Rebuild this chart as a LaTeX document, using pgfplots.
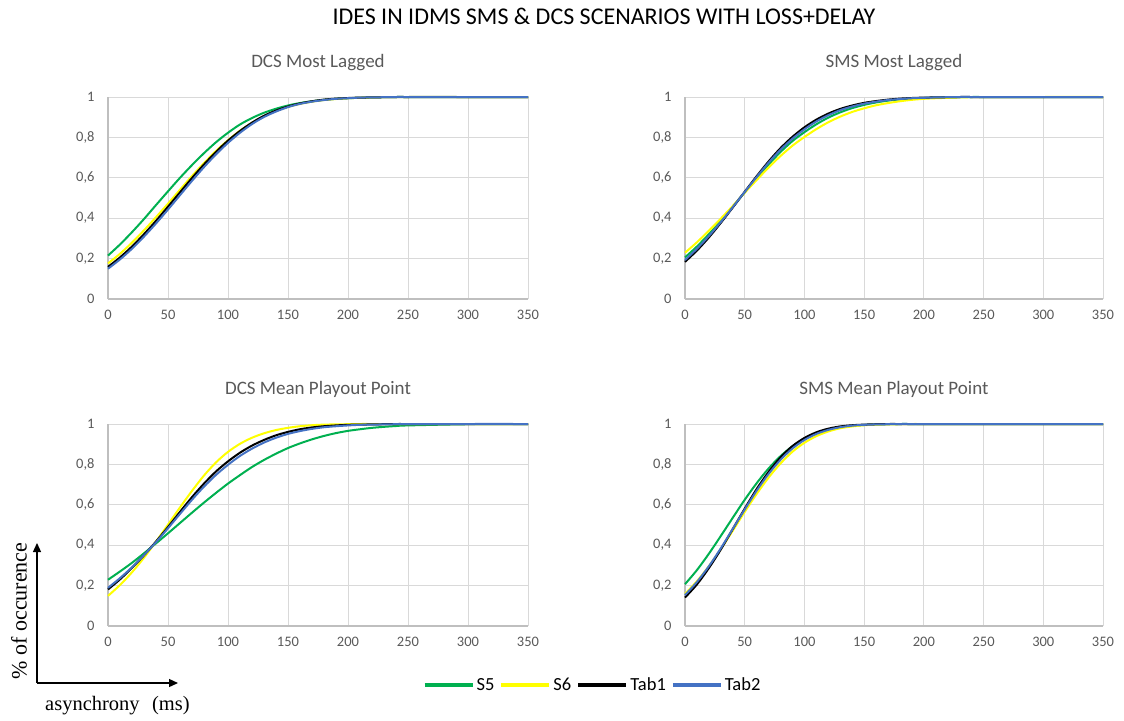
\documentclass[border=0pt]{standalone}
\usepackage{pgfplots}
\pgfplotsset{compat=1.18}
\usepackage{pgfplotstable}
\usepackage{fontspec}
\setmainfont{Carlito}
\newfontfamily\timesfont{Liberation Serif}
\usetikzlibrary{arrows.meta}
\definecolor{cG}{HTML}{00B050}
\definecolor{cY}{HTML}{FFFF00}
\definecolor{cB}{HTML}{4472C4}
\definecolor{tickgray}{HTML}{595959}
\definecolor{gridgray}{HTML}{D9D9D9}
\definecolor{axgray}{HTML}{BFBFBF}

\pgfplotstableread{
x G Y K B
0 0.215 0.176 0.159 0.150
10 0.270 0.224 0.206 0.196
20 0.331 0.279 0.260 0.249
30 0.396 0.340 0.321 0.309
40 0.465 0.405 0.387 0.374
50 0.533 0.472 0.457 0.443
60 0.600 0.541 0.528 0.514
70 0.663 0.609 0.599 0.585
80 0.722 0.673 0.666 0.653
90 0.776 0.733 0.728 0.716
100 0.823 0.786 0.784 0.773
110 0.864 0.833 0.832 0.823
120 0.896 0.872 0.873 0.866
130 0.922 0.905 0.907 0.901
140 0.942 0.931 0.933 0.928
150 0.958 0.951 0.953 0.950
160 0.970 0.966 0.968 0.966
170 0.979 0.977 0.979 0.977
180 0.986 0.985 0.987 0.985
190 0.991 0.990 0.992 0.991
200 0.994 0.994 0.995 0.994
210 0.996 0.996 0.997 0.997
220 0.998 0.998 0.998 0.998
230 0.999 0.999 0.999 0.999
240 1.000 0.999 1.000 0.999
250 1.000 1.000 1.000 1.000
300 1 1 1 1
350 1 1 1 1
}\tl

\pgfplotstableread{
x G Y K B
0 0.206 0.229 0.184 0.193
10 0.260 0.281 0.240 0.249
20 0.321 0.338 0.305 0.312
30 0.387 0.398 0.377 0.381
40 0.457 0.461 0.453 0.455
50 0.528 0.526 0.531 0.530
60 0.599 0.589 0.608 0.604
70 0.666 0.651 0.681 0.675
80 0.728 0.708 0.747 0.739
90 0.782 0.759 0.803 0.794
100 0.826 0.802 0.850 0.840
110 0.865 0.841 0.888 0.879
120 0.898 0.875 0.918 0.910
130 0.924 0.903 0.941 0.935
140 0.945 0.926 0.958 0.953
150 0.961 0.944 0.971 0.967
160 0.973 0.959 0.980 0.977
170 0.982 0.970 0.987 0.985
180 0.988 0.979 0.992 0.990
190 0.992 0.986 0.995 0.994
200 0.995 0.991 0.997 0.996
210 0.997 0.994 0.998 0.998
220 0.998 0.996 0.999 0.999
230 0.999 0.998 1.000 1.000
240 1.000 0.999 1.000 1.000
250 1.000 0.999 1.000 1.000
300 1 1 1 1
350 1 1 1 1
}\tr

\pgfplotstableread{
x G Y K B
0 0.229 0.149 0.181 0.189
10 0.270 0.203 0.231 0.237
20 0.313 0.266 0.288 0.291
30 0.360 0.338 0.350 0.351
40 0.409 0.418 0.418 0.415
50 0.459 0.502 0.490 0.484
60 0.510 0.587 0.565 0.555
70 0.561 0.669 0.638 0.625
80 0.611 0.745 0.705 0.690
90 0.659 0.810 0.765 0.748
100 0.705 0.862 0.815 0.798
110 0.747 0.902 0.858 0.842
120 0.787 0.932 0.893 0.878
130 0.822 0.954 0.921 0.908
140 0.853 0.970 0.944 0.932
150 0.881 0.981 0.961 0.951
160 0.904 0.989 0.974 0.965
170 0.924 0.994 0.983 0.976
180 0.941 0.997 0.989 0.984
190 0.955 0.998 0.993 0.989
200 0.966 0.999 0.996 0.993
210 0.974 1.000 0.997 0.996
220 0.981 1.000 0.998 0.997
230 0.986 1.000 0.999 0.998
240 0.990 1.000 1.000 0.999
250 0.993 1.000 1.000 0.999
300 0.999 1 1 1
350 1 1 1 1
}\bl

\pgfplotstableread{
x G Y K B
0 0.207 0.159 0.141 0.153
10 0.277 0.222 0.206 0.218
20 0.358 0.296 0.287 0.296
30 0.446 0.381 0.379 0.385
40 0.536 0.472 0.480 0.481
50 0.625 0.565 0.581 0.577
60 0.707 0.654 0.678 0.670
70 0.780 0.735 0.763 0.753
80 0.841 0.805 0.835 0.823
90 0.890 0.863 0.891 0.879
100 0.927 0.907 0.931 0.921
110 0.954 0.940 0.959 0.951
120 0.972 0.963 0.977 0.971
130 0.984 0.979 0.988 0.984
140 0.991 0.988 0.994 0.992
150 0.995 0.994 0.997 0.996
160 0.998 0.997 0.999 0.998
170 0.999 0.998 1.000 0.999
180 1.000 0.999 1.000 1.000
190 1 1 1 1
200 1 1 1 1
250 1 1 1 1
300 1 1 1 1
350 1 1 1 1
}\br

\pgfplotsset{panel/.style={
  scale only axis, width=420pt, height=202pt,
  anchor=south west,
  xmin=0, xmax=350, ymin=0, ymax=1,
  xtick={0,50,100,150,200,250,300,350},
  ytick={0,0.2,0.4,0.6,0.8,1},
  grid=major, major grid style={gridgray, line width=0.9pt},
  axis x line*=bottom, axis y line*=left,
  axis line style={axgray, line width=1.4pt, -},
  major tick length=0pt,
  tick label style={font=\fontsize{14.5}{16}\selectfont, text=tickgray},
  yticklabel style={xshift=-10pt},
  xticklabel style={yshift=-8pt},
  /pgf/number format/use comma,
  /pgf/number format/assume math mode=true,
  title style={font=\fontsize{19}{22}\selectfont, text=tickgray, anchor=base, at={(0.5,1)}, yshift=24pt},
  clip=false, no markers,
  every axis plot/.append style={line width=2pt, smooth},
}}

\begin{document}
\begin{tikzpicture}
\path[use as bounding box] (0,0) rectangle (1124pt,-720pt);
\node[anchor=base, font=\fontsize{24}{28}\selectfont] at (604pt,-24pt) {IDES IN IDMS SMS \& DCS SCENARIOS WITH LOSS+DELAY};

\begin{axis}[panel, at={(108pt,-299pt)}, title={DCS Most Lagged}]
\addplot[cG] table[x=x,y=G]{\tl};
\addplot[cY] table[x=x,y=Y]{\tl};
\addplot[black] table[x=x,y=K]{\tl};
\addplot[cB] table[x=x,y=B]{\tl};
\end{axis}

\begin{axis}[panel, at={(685pt,-299pt)}, width=418pt, title={SMS Most Lagged}]
\addplot[cG] table[x=x,y=G]{\tr};
\addplot[cY] table[x=x,y=Y]{\tr};
\addplot[black] table[x=x,y=K]{\tr};
\addplot[cB] table[x=x,y=B]{\tr};
\end{axis}

\begin{axis}[panel, at={(108pt,-626pt)}, title={DCS Mean Playout Point},
  legend style={at={(1.1536,-0.292)}, anchor=center, draw=none, fill=none,
    legend columns=4, font=\fontsize{18.5}{20}\selectfont,
    /tikz/every even column/.append style={column sep=3pt}},
  legend image code/.code={\draw[#1, line width=4pt] (0pt,0pt) -- (48pt,0pt);}]
\addplot[cG] table[x=x,y=G]{\bl};
\addplot[cY] table[x=x,y=Y]{\bl};
\addplot[black] table[x=x,y=K]{\bl};
\addplot[cB] table[x=x,y=B]{\bl};
\legend{S5,S6,Tab1,Tab2}
\end{axis}

\begin{axis}[panel, at={(685pt,-626pt)}, width=418pt, title={SMS Mean Playout Point}]
\addplot[cG] table[x=x,y=G]{\br};
\addplot[cY] table[x=x,y=Y]{\br};
\addplot[black] table[x=x,y=K]{\br};
\addplot[cB] table[x=x,y=B]{\br};
\end{axis}

\draw[line width=1.3pt, -{Triangle[length=9pt,width=8pt]}] (37pt,-683pt) -- (37pt,-543pt);
\draw[line width=1.3pt, -{Triangle[length=9pt,width=8pt]}] (37pt,-683pt) -- (178pt,-683pt);
\node[rotate=90, anchor=center, font=\timesfont\fontsize{22}{24}\selectfont] at (19pt,-611pt) {\% of occurence};
\node[anchor=base west, font=\timesfont\fontsize{20.5}{24}\selectfont, inner sep=0pt] at (45pt,-710pt) {asynchrony\hspace{0.6em}(ms)};
\end{tikzpicture}
\end{document}
